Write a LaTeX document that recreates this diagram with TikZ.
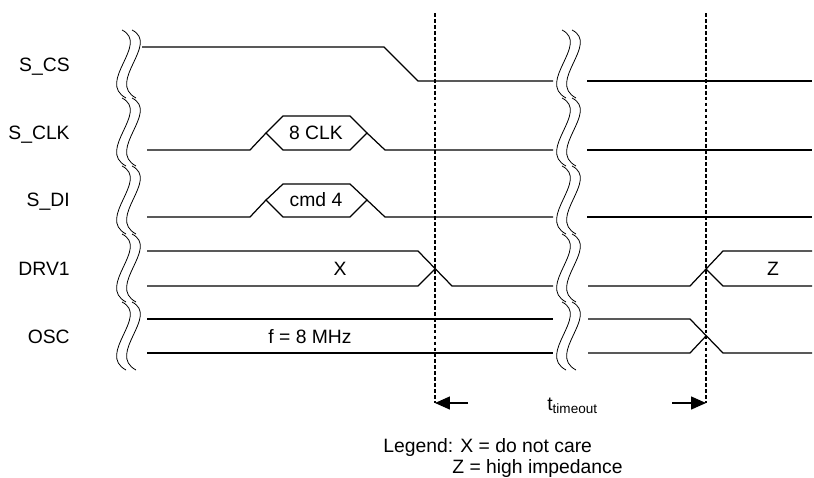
\documentclass[tikz,border=0pt]{standalone}
\usepackage{fontspec}
\setmainfont{Liberation Sans}
\usetikzlibrary{arrows.meta}

\def\SIGNALCOLOR{black}
\def\BREAKCOLOR{black}

\tikzset{
	signal/.style={draw=\SIGNALCOLOR,line width=0.7pt,line join=miter},
	wave/.style={draw=\BREAKCOLOR,line width=0.45pt},
	marker/.style={draw=black,line width=0.7pt,dash pattern=on 2.2pt off 1.2pt},
	timearrow/.style={draw=black,line width=0.7pt,-{Triangle[length=8.5pt,width=7.4pt]}},
	lbl/.style={inner sep=0pt,font=\fontsize{11}{13}\selectfont}
}

\begin{document}
\begin{tikzpicture}[x=0.02cm,y=-0.02cm]

	\useasboundingbox (0,0) rectangle (814,477);

	% left break
	\draw[wave] (122,30) .. controls +(28,14) and +(-30,-16) .. (126,98)
		(122,98) .. controls +(28,14) and +(-30,-16) .. (126,166)
		(122,166) .. controls +(28,14) and +(-30,-16) .. (126,234)
		(122,234) .. controls +(28,14) and +(-30,-16) .. (126,302)
		(122,302) .. controls +(28,14) and +(-30,-16) .. (126,370);
	\draw[wave] (132,30) .. controls +(28,14) and +(-30,-16) .. (136,98)
		(132,98) .. controls +(28,14) and +(-30,-16) .. (136,166)
		(132,166) .. controls +(28,14) and +(-30,-16) .. (136,234)
		(132,234) .. controls +(28,14) and +(-30,-16) .. (136,302)
		(132,302) .. controls +(28,14) and +(-30,-16) .. (136,370);

	% middle break
	\draw[wave] (562,30) .. controls +(28,14) and +(-30,-16) .. (566,98)
		(562,98) .. controls +(28,14) and +(-30,-16) .. (566,166)
		(562,166) .. controls +(28,14) and +(-30,-16) .. (566,234)
		(562,234) .. controls +(28,14) and +(-30,-16) .. (566,302)
		(562,302) .. controls +(28,14) and +(-30,-16) .. (566,370);
	\draw[wave] (572,30) .. controls +(28,14) and +(-30,-16) .. (576,98)
		(572,98) .. controls +(28,14) and +(-30,-16) .. (576,166)
		(572,166) .. controls +(28,14) and +(-30,-16) .. (576,234)
		(572,234) .. controls +(28,14) and +(-30,-16) .. (576,302)
		(572,302) .. controls +(28,14) and +(-30,-16) .. (576,370);

	% row names
	\node[lbl,anchor=base east] (scs) at (70,71) {S\_CS};
	\node[lbl,anchor=base east] (sclk) at (70,139) {S\_CLK};
	\node[lbl,anchor=base east] (sdi) at (70,206) {S\_DI};
	\node[lbl,anchor=base east] (drv) at (70,275) {DRV1};
	\node[lbl,anchor=base east] (osc) at (70,343) {OSC};

	% S_CS
	\draw[signal] (142,47) -- (384,47) -- (418,81) -- (553,81);
	\draw[signal] (587,81) -- (812,81);

	% S_CLK
	\draw[signal] (147,150) -- (250,150) -- (266,133);
	\draw[signal] (266,133) -- (283,116) -- (350,116) -- (367,133) -- (350,150) -- (283,150) -- cycle;
	\draw[signal] (367,133) -- (385,150) -- (553,150);
	\draw[signal] (587,150) -- (812,150);
	\node[lbl,anchor=base] (clkval) at (316,139) {8 CLK};

	% S_DI
	\draw[signal] (147,217) -- (250,217) -- (266,200);
	\draw[signal] (266,200) -- (283,184) -- (350,184) -- (367,200) -- (350,217) -- (283,217) -- cycle;
	\draw[signal] (367,200) -- (385,217) -- (553,217);
	\draw[signal] (587,217) -- (812,217);
	\node[lbl,anchor=base] (dival) at (316,206) {cmd 4};

	% DRV1
	\draw[signal] (147,251) -- (418,251) -- (452,286) -- (553,286);
	\draw[signal] (147,286) -- (418,286) -- (435,269);
	\draw[signal] (588,286) -- (690,286) -- (723,251) -- (812,251);
	\draw[signal] (706,269) -- (723,286) -- (812,286);
	\node[lbl,anchor=base] (drvx) at (340,275) {X};
	\node[lbl,anchor=base] (drvz) at (773,275) {Z};

	% OSC
	\draw[signal] (147,319) -- (553,319);
	\draw[signal] (147,353) -- (553,353);
	\draw[signal] (588,319) -- (690,319) -- (723,353) -- (812,353);
	\draw[signal] (588,353) -- (690,353) -- (706,336);
	\node[lbl,anchor=base] (oscf) at (310,343) {f = 8 MHz};

	% timeout markers
	\coordinate (mkA) at (435,403);
	\coordinate (mkB) at (706,403);
	\coordinate (arrA) at (468,403);
	\coordinate (arrB) at (672,403);
	\draw[marker] (435,13) -- (mkA);
	\draw[marker] (706,13) -- (mkB);
	\draw[timearrow] (arrA) -- (mkA);
	\draw[timearrow] (arrB) -- (mkB);
	\node[lbl,anchor=base west] (tout) at (547,410) {t\textsubscript{timeout}};

	% legend
	\node[lbl,anchor=base west] (legx) at (383,452) {Legend: X = do not care};
	\node[lbl,anchor=base west] (legz) at (452,473) {Z = high impedance};

\end{tikzpicture}
\end{document}
